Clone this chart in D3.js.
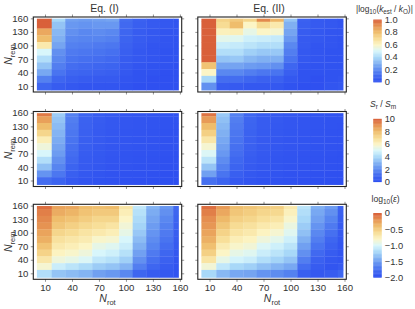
<!DOCTYPE html>
<html><head><meta charset="utf-8">
<script src="https://cdn.jsdelivr.net/npm/d3@7"></script>
<style>body{margin:0;background:#fff}svg{display:block;font-family:"Liberation Sans",Arial,sans-serif}</style>
</head><body><svg id="c" width="415" height="309"></svg>
<script>
// Grid coordinates
const nRot = [10,25,40,55,70,85,100,115,130,145,160];
const nRem = [160,145,130,115,100,85,70,55,40,25,10]; // top -> bottom
const tickVals = [10,40,70,100,130,160];
const colTitles = ["Eq. (I)", "Eq. (II)"];

// Each inner array = one N_rot column, values listed for N_rem 160 -> 10
const kEqI = [
 [1.05,1.0,0.85,0.8,0.65,0.5,0.42,0.35,0.28,0.18,0.1],
 [0.4,0.35,0.32,0.3,0.27,0.22,0.2,0.17,0.14,0.1,0.06],
 [0.26,0.24,0.22,0.2,0.18,0.16,0.14,0.12,0.1,0.07,0.04],
 [0.25,0.23,0.2,0.19,0.17,0.15,0.13,0.11,0.09,0.06,0.03],
 [0.26,0.24,0.21,0.19,0.16,0.14,0.12,0.1,0.08,0.05,0.03],
 [0.27,0.24,0.2,0.18,0.15,0.13,0.11,0.09,0.07,0.05,0.03],
 [0.12,0.11,0.1,0.09,0.08,0.07,0.06,0.05,0.04,0.03,0.02],
 [0.08,0.07,0.06,0.06,0.05,0.04,0.04,0.03,0.02,0.02,0.01],
 [0.05,0.05,0.04,0.04,0.03,0.03,0.03,0.02,0.02,0.01,0.01],
 [0.04,0.04,0.03,0.03,0.03,0.02,0.02,0.02,0.01,0.01,0.01],
 [0.03,0.03,0.03,0.02,0.02,0.02,0.02,0.01,0.01,0.01,0.01]
];
const kEqII = [
 [1.2,1.2,1.2,1.2,1.2,1.2,1.2,0.78,0.6,0.4,0.22],
 [0.73,0.7,0.62,0.53,0.47,0.42,0.35,0.27,0.2,0.12,0.06],
 [0.76,0.8,0.63,0.52,0.46,0.42,0.36,0.27,0.2,0.12,0.05],
 [0.72,0.6,0.54,0.48,0.44,0.38,0.32,0.25,0.17,0.1,0.04],
 [0.92,0.7,0.6,0.47,0.42,0.36,0.3,0.24,0.15,0.08,0.04],
 [0.82,0.65,0.58,0.46,0.42,0.36,0.3,0.22,0.14,0.08,0.04],
 [0.35,0.3,0.27,0.24,0.2,0.17,0.14,0.1,0.07,0.04,0.02],
 [0.08,0.07,0.06,0.05,0.05,0.04,0.04,0.03,0.02,0.02,0.01],
 [0.05,0.05,0.04,0.04,0.03,0.03,0.03,0.02,0.02,0.01,0.01],
 [0.04,0.04,0.03,0.03,0.03,0.02,0.02,0.02,0.02,0.02,0.03],
 [0.03,0.03,0.03,0.02,0.02,0.02,0.02,0.02,0.02,0.03,0.04]
];
const sEqI = [
 [9.5,8.7,8.0,7.2,6.3,5.6,5.0,4.2,3.4,2.3,1.2],
 [3.7,3.5,3.3,3.1,2.9,2.7,2.5,2.2,1.9,1.5,0.9],
 [1.8,1.7,1.6,1.5,1.4,1.3,1.2,1.1,0.9,0.7,0.45],
 [0.9,0.85,0.8,0.75,0.7,0.65,0.6,0.55,0.5,0.4,0.3],
 [0.6,0.58,0.55,0.52,0.5,0.47,0.44,0.4,0.36,0.3,0.2],
 [0.45,0.43,0.41,0.39,0.37,0.35,0.33,0.3,0.27,0.22,0.15],
 [0.35,0.34,0.33,0.31,0.3,0.28,0.26,0.24,0.22,0.18,0.12],
 [0.3,0.29,0.28,0.27,0.26,0.24,0.22,0.2,0.18,0.15,0.1],
 [0.25,0.24,0.23,0.22,0.21,0.2,0.19,0.17,0.15,0.12,0.08],
 [0.2,0.2,0.19,0.18,0.17,0.16,0.15,0.14,0.12,0.1,0.07],
 [0.2,0.19,0.18,0.17,0.16,0.15,0.14,0.13,0.11,0.09,0.06]
];
const sEqII = [
 [9.6,8.8,8.0,7.4,6.6,5.8,5.1,4.4,3.5,2.6,1.3],
 [3.6,3.4,3.2,3.0,2.8,2.6,2.4,2.1,1.8,1.4,0.9],
 [1.8,1.7,1.6,1.5,1.4,1.3,1.2,1.05,0.9,0.7,0.45],
 [1.0,0.95,0.9,0.85,0.8,0.75,0.68,0.6,0.52,0.42,0.3],
 [0.62,0.6,0.57,0.54,0.51,0.48,0.45,0.41,0.37,0.3,0.2],
 [0.47,0.45,0.43,0.41,0.39,0.37,0.34,0.31,0.28,0.23,0.15],
 [0.36,0.35,0.34,0.32,0.31,0.29,0.27,0.25,0.22,0.18,0.12],
 [0.3,0.29,0.28,0.27,0.26,0.24,0.22,0.2,0.18,0.15,0.1],
 [0.25,0.24,0.23,0.22,0.21,0.2,0.19,0.17,0.15,0.12,0.08],
 [0.2,0.2,0.19,0.18,0.17,0.16,0.15,0.14,0.12,0.1,0.07],
 [0.2,0.19,0.18,0.17,0.16,0.15,0.14,0.13,0.11,0.09,0.06]
];
const eEqI = [
 [-0.06,-0.12,-0.16,-0.2,-0.28,-0.34,-0.44,-0.54,-0.68,-0.84,-1.16],
 [-0.28,-0.32,-0.4,-0.46,-0.56,-0.64,-0.7,-0.78,-0.88,-1.06,-1.3],
 [-0.3,-0.36,-0.44,-0.52,-0.6,-0.68,-0.74,-0.82,-0.92,-1.12,-1.34],
 [-0.4,-0.44,-0.5,-0.58,-0.66,-0.72,-0.8,-0.88,-0.98,-1.18,-1.38],
 [-0.42,-0.48,-0.56,-0.62,-0.7,-0.82,-0.92,-1.0,-1.1,-1.26,-1.48],
 [-0.4,-0.48,-0.56,-0.66,-0.74,-0.84,-0.96,-1.04,-1.14,-1.3,-1.52],
 [-0.68,-0.74,-0.8,-0.86,-0.92,-1.0,-1.06,-1.14,-1.24,-1.38,-1.6],
 [-1.1,-1.14,-1.18,-1.22,-1.28,-1.34,-1.4,-1.48,-1.56,-1.66,-1.8],
 [-1.38,-1.42,-1.46,-1.5,-1.54,-1.58,-1.62,-1.68,-1.74,-1.8,-1.88],
 [-1.52,-1.56,-1.6,-1.64,-1.68,-1.72,-1.76,-1.8,-1.84,-1.88,-1.92],
 [-1.78,-1.8,-1.82,-1.84,-1.86,-1.88,-1.9,-1.92,-1.94,-1.95,-1.96]
];
const eEqII = [
 [-0.06,-0.12,-0.18,-0.22,-0.28,-0.34,-0.42,-0.52,-0.66,-0.86,-1.2],
 [-0.24,-0.3,-0.38,-0.46,-0.54,-0.62,-0.72,-0.8,-0.92,-1.1,-1.36],
 [-0.42,-0.46,-0.52,-0.6,-0.66,-0.74,-0.82,-0.92,-1.02,-1.2,-1.44],
 [-0.46,-0.5,-0.56,-0.64,-0.7,-0.78,-0.86,-0.96,-1.06,-1.24,-1.46],
 [-0.5,-0.56,-0.62,-0.7,-0.78,-0.88,-0.98,-1.06,-1.16,-1.32,-1.54],
 [-0.52,-0.58,-0.66,-0.74,-0.84,-0.94,-1.04,-1.12,-1.22,-1.38,-1.58],
 [-0.7,-0.76,-0.82,-0.9,-0.96,-1.04,-1.12,-1.2,-1.3,-1.44,-1.64],
 [-1.12,-1.16,-1.2,-1.26,-1.32,-1.4,-1.48,-1.56,-1.66,-1.76,-1.86],
 [-1.4,-1.44,-1.48,-1.54,-1.6,-1.66,-1.72,-1.78,-1.84,-1.88,-1.92],
 [-1.5,-1.56,-1.62,-1.68,-1.74,-1.8,-1.84,-1.88,-1.92,-1.94,-1.88],
 [-1.82,-1.84,-1.86,-1.88,-1.9,-1.92,-1.93,-1.94,-1.94,-1.9,-1.8]
];

// Colour legend ranges and ticks
const legendDomains = [[0,1],[0,10],[-2,0]];
const legendTicks = [[0,0.2,0.4,0.6,0.8,1.0],[0,2,4,6,8,10],[-2,-1.5,-1,-0.5,0]];
const legendLabels = [["0","0.2","0.4","0.6","0.8","1.0"],["0","2","4","6","8","10"],["\u22122.0","\u22121.5","\u22121.0","\u22120.5","0"]];

const panels = [[kEqI,kEqII],[sEqI,sEqII],[eEqI,eEqII]];

// Layout
const colX = [[33.3,181.7],[197.8,346.3]];
const rowY = [[17,92],[111.5,186.5],[204.3,279.3]];
const cbX = 373.3, cbW = 8.4;
const cbY = [[19.5,82],[118.8,181.7],[213,277.3]];

const cStops = [0,0.1,0.2,0.3,0.4,0.5,0.6,0.7,0.8,0.9,1];
const cCols = ["#2d4ef0","#3e66f0","#5a88f0","#80b0f2","#a8d8f8","#d8f6fb","#fcf5c6","#f7dc94","#efbd6c","#e69352","#d9603a"];
const cmap = d3.scaleLinear().domain(cStops).range(cCols).interpolate(d3.interpolateRgb).clamp(true);

const svg = d3.select("#c");
const font = '"Liberation Sans",Arial,sans-serif';
const txtCol = "#333";

function addSubText(g, base, sub, italicBase) {
  g.append("tspan").attr("font-style", italicBase ? "italic" : "normal").text(base);
  g.append("tspan").attr("font-size", "7.5px").attr("dy", "2.5").text(sub);
}

rowY.forEach((ry, r) => {
  const norm = d3.scaleLinear().domain(legendDomains[r]).range([0,1]).clamp(true);
  colX.forEach((cx, c) => {
    const x = d3.scaleLinear().domain([-3,162]).range(cx);
    const y = d3.scaleLinear().domain([-3.3,163]).range([ry[1], ry[0]]);
    const g = svg.append("g");
    const data = panels[r][c];
    const cells = [];
    data.forEach((col, i) => col.forEach((v, j) => cells.push({i, j, v})));
    const xl = i => i === 0 ? 1 : nRot[i] - 7.5;
    const xr = i => i === nRot.length - 1 ? 158.5 : nRot[i] + 7.5;
    const yb = j => j === nRem.length - 1 ? 0.8 : nRem[j] - 7.5;
    const yt = j => j === 0 ? 159.3 : nRem[j] + 7.5;
    g.selectAll("rect.cell").data(cells).join("rect")
      .attr("x", d => x(xl(d.i)))
      .attr("width", d => x(xr(d.i)) - x(xl(d.i)) + 0.3)
      .attr("y", d => y(yt(d.j)))
      .attr("height", d => y(yb(d.j)) - y(yt(d.j)) + 0.3)
      .attr("fill", d => cmap(norm(d.v)));

    // axes (ticks on all sides)
    const mk = (axis, tr, labels) => {
      const a = svg.append("g").attr("transform", tr)
        .call(axis.tickValues(tickVals).tickSizeInner(2.5).tickSizeOuter(0).tickPadding(2.5).tickFormat(labels ? d3.format("d") : ""));
      a.select(".domain").remove();
      a.selectAll("line").attr("stroke", "#777").attr("stroke-width", 0.8);
      a.selectAll("text").attr("font-family", font).attr("font-size", "9.6px").attr("fill", txtCol);
      return a;
    };
    mk(d3.axisLeft(y), `translate(${cx[0]},0)`, c === 0);
    mk(d3.axisRight(y), `translate(${cx[1]},0)`, false);
    mk(d3.axisTop(x), `translate(0,${ry[0]})`, false);
    mk(d3.axisBottom(x), `translate(0,${ry[1]})`, r === 2);

    svg.append("rect").attr("x", cx[0]).attr("y", ry[0]).attr("width", cx[1]-cx[0]).attr("height", ry[1]-ry[0])
      .attr("fill", "none").attr("stroke", "#222").attr("stroke-width", 1.1);

    if (r === 0) {
      svg.append("text").attr("x", (cx[0]+cx[1])/2 - 3).attr("y", 11.5).attr("text-anchor", "middle")
        .attr("font-family", font).attr("font-size", "10.5px").attr("fill", txtCol).text(colTitles[c]);
    }
    if (c === 0) {
      const t = svg.append("text").attr("transform", `translate(12,${(ry[0]+ry[1])/2}) rotate(-90)`)
        .attr("text-anchor", "middle").attr("font-family", font).attr("font-size", "10.5px").attr("fill", txtCol);
      addSubText(t, "N", "rem", true);
    }
    if (r === 2) {
      const t = svg.append("text").attr("x", (cx[0]+cx[1])/2).attr("y", 302)
        .attr("text-anchor", "middle").attr("font-family", font).attr("font-size", "10.5px").attr("fill", txtCol);
      addSubText(t, "N", "rot", true);
    }
  });

  // colour legend
  const ly = d3.scaleLinear().domain(legendDomains[r]).range([cbY[r][1], cbY[r][0]]);
  const nSteps = 80;
  const steps = d3.range(nSteps).map(k => legendDomains[r][0] + (legendDomains[r][1]-legendDomains[r][0]) * k / nSteps);
  const dv = (legendDomains[r][1]-legendDomains[r][0]) / nSteps;
  svg.append("g").selectAll("rect").data(steps).join("rect")
    .attr("x", cbX).attr("width", cbW)
    .attr("y", d => ly(d + dv)).attr("height", d => ly(d) - ly(d + dv) + 0.4)
    .attr("fill", d => cmap(norm(d + dv/2)));
  const la = svg.append("g").attr("transform", `translate(${cbX + cbW},0)`)
    .call(d3.axisRight(ly).tickValues(legendTicks[r]).tickSize(0).tickPadding(3)
      .tickFormat((d, i) => legendLabels[r][i]));
  la.select(".domain").remove();
  la.selectAll("text").attr("font-family", font).attr("font-size", "9.3px").attr("fill", txtCol);
});

// legend titles
const lt1 = svg.append("text").attr("x", 356).attr("y", 12).attr("font-family", font).attr("font-size", "8.4px").attr("fill", txtCol);
lt1.append("tspan").text("|log");
lt1.append("tspan").attr("font-size", "6.3px").attr("dy", 2).text("10");
lt1.append("tspan").attr("dy", -2).text("(");
lt1.append("tspan").attr("font-style", "italic").text("k");
lt1.append("tspan").attr("font-size", "6.3px").attr("dy", 2).text("est");
lt1.append("tspan").attr("dy", -2).text(" / ");
lt1.append("tspan").attr("font-style", "italic").text("k");
lt1.append("tspan").attr("font-size", "6.3px").attr("dy", 2).text("O");
lt1.append("tspan").attr("dy", -2).text(")|");

const lt2 = svg.append("text").attr("x", 370).attr("y", 106.5).attr("font-family", font).attr("font-size", "8.6px").attr("fill", txtCol);
lt2.append("tspan").attr("font-style", "italic").text("S");
lt2.append("tspan").attr("font-size", "6.5px").attr("dy", 2).text("r");
lt2.append("tspan").attr("dy", -2).text(" / ");
lt2.append("tspan").attr("font-style", "italic").text("S");
lt2.append("tspan").attr("font-size", "6.5px").attr("dy", 2).text("m");

const lt3 = svg.append("text").attr("x", 371.5).attr("y", 202).attr("font-family", font).attr("font-size", "8.6px").attr("fill", txtCol);
lt3.append("tspan").text("log");
lt3.append("tspan").attr("font-size", "6.5px").attr("dy", 2).text("10");
lt3.append("tspan").attr("dy", -2).text("(");
lt3.append("tspan").attr("font-style", "italic").text("\u03b5");
lt3.append("tspan").text(")");
</script></body></html>
